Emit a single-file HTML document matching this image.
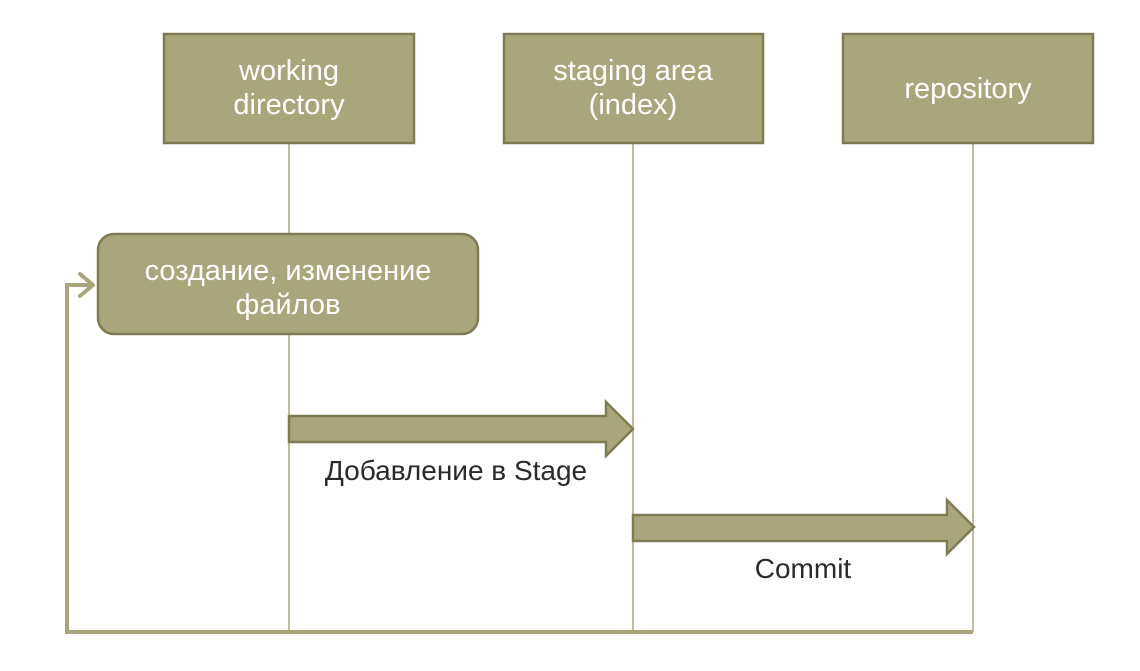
<!DOCTYPE html>
<html><head><meta charset="utf-8"><style>
html,body{margin:0;padding:0;background:#fff;}
svg{display:block;}
text{font-family:"Liberation Sans","DejaVu Sans",sans-serif;}
</style></head><body>
<svg width="1140" height="671" viewBox="0 0 1140 671" xmlns="http://www.w3.org/2000/svg">
<g stroke="#aaa67c" stroke-width="1.5" fill="none">
<line x1="289" y1="143" x2="289" y2="632"/>
<line x1="633" y1="143" x2="633" y2="632"/>
<line x1="973" y1="143" x2="973" y2="632"/>
</g>
<polyline points="973,632 67,632 67,285 92,285" fill="none" stroke="#aaa67c" stroke-width="4"/>
<polyline points="80,274 93,285 80,296" fill="none" stroke="#aaa67c" stroke-width="4" stroke-linecap="round" stroke-linejoin="round"/>
<g fill="#aaa67c" stroke="#7f7b52" stroke-width="2.5">
<rect x="164" y="34" width="250" height="109"/>
<rect x="504" y="34" width="259" height="109"/>
<rect x="843" y="34" width="250" height="109"/>
<rect x="98" y="234" width="380" height="100" rx="16" ry="16"/>
<polygon points="289,416 606,416 606,402 633,429 606,456 606,442 289,442"/>
<polygon points="633,515 947,515 947,500 974,527 947,554 947,541 633,541"/>
</g>
<g fill="#ffffff" font-size="29" text-anchor="middle">
<text x="289" y="80">working</text>
<text x="289" y="114">directory</text>
<text x="633" y="80">staging area</text>
<text x="633" y="114">(index)</text>
<text x="968" y="98">repository</text>
<text x="288" y="280">создание, изменение</text>
<text x="288" y="314">файлов</text>
</g>
<g fill="#2a2a2a" font-size="28" text-anchor="middle">
<text x="456" y="480">Добавление в Stage</text>
<text x="803" y="578">Commit</text>
</g>
</svg>
</body></html>
